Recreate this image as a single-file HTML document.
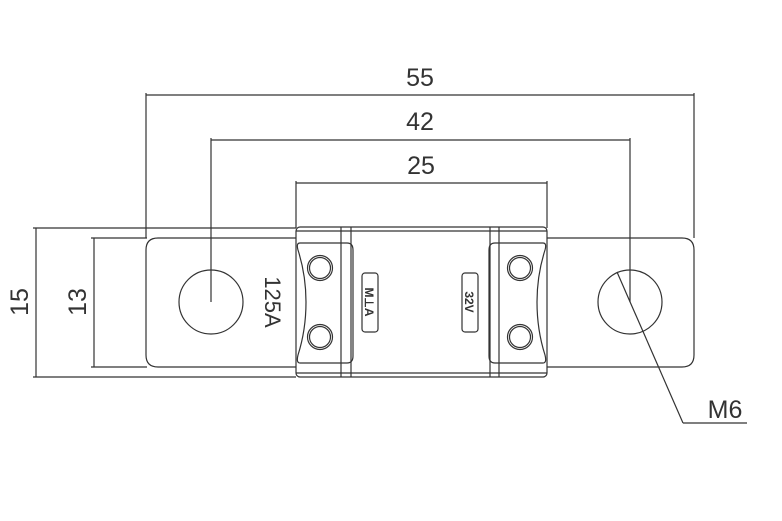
<!DOCTYPE html>
<html><head><style>
html,body{margin:0;padding:0;background:#fff;}
svg{display:block;}
text{font-family:"Liberation Sans",sans-serif;fill:#333;}
</style></head><body>
<svg width="782" height="521" viewBox="0 0 782 521" xmlns="http://www.w3.org/2000/svg">
<g stroke="#333" stroke-width="1.2" fill="none">
<!-- dimension 55 -->
<line x1="146" y1="93" x2="146" y2="238"/>
<line x1="694" y1="93" x2="694" y2="238"/>
<line x1="146" y1="95" x2="694" y2="95"/>
<!-- 42 -->
<line x1="211" y1="138" x2="211" y2="302"/>
<line x1="630" y1="138" x2="630" y2="302"/>
<line x1="211" y1="140" x2="630" y2="140"/>
<!-- 25 -->
<line x1="296" y1="181" x2="296" y2="228"/>
<line x1="547" y1="181" x2="547" y2="228"/>
<line x1="296" y1="183" x2="547" y2="183"/>
<!-- 15 -->
<line x1="33" y1="228" x2="296" y2="228"/>
<line x1="33" y1="377" x2="296" y2="377"/>
<line x1="36" y1="228" x2="36" y2="377"/>
<!-- 13 -->
<line x1="91" y1="238" x2="147" y2="238"/>
<line x1="91" y1="367" x2="147" y2="367"/>
<line x1="94" y1="238" x2="94" y2="367"/>
<!-- tabs -->
<path d="M296 238 H158 Q146 238 146 250 V355 Q146 367 158 367 H296"/>
<path d="M547 238 H682 Q694 238 694 250 V355 Q694 367 682 367 H547"/>
<circle cx="211" cy="302" r="32"/>
<circle cx="630" cy="302" r="32"/>
<!-- body -->
<rect x="296" y="227" width="251" height="150" rx="4"/>
<line x1="296" y1="231" x2="547" y2="231"/>
<line x1="296" y1="373" x2="547" y2="373"/>
<line x1="341" y1="227" x2="341" y2="377"/>
<line x1="351" y1="227" x2="351" y2="377"/>
<line x1="490" y1="227" x2="490" y2="377"/>
<line x1="499" y1="227" x2="499" y2="377"/>
<!-- clips -->
<path d="M300 243 H347 Q353 243 353 250 V356 Q353 363 347 363 H300 Q296 363 298 355 Q306 330 306 302 Q306 275 298 250 Q296 243 300 243 Z"/>
<path d="M543 243 H495 Q489 243 489 250 V356 Q489 363 495 363 H543 Q547 363 545 355 Q537 330 537 302 Q537 275 545 250 Q547 243 543 243 Z"/>
<circle cx="320" cy="268" r="12.5"/><circle cx="320" cy="268" r="10.5"/>
<circle cx="320" cy="337" r="12.5"/><circle cx="320" cy="337" r="10.5"/>
<circle cx="520" cy="268" r="12.5"/><circle cx="520" cy="268" r="10.5"/>
<circle cx="520" cy="337" r="12.5"/><circle cx="520" cy="337" r="10.5"/>
<rect x="362" y="273" width="16" height="59" rx="3"/>
<rect x="462" y="273" width="16" height="59" rx="3"/>
<!-- M6 leader -->
<line x1="617" y1="272" x2="683" y2="423"/>
<line x1="683" y1="423" x2="747" y2="423"/>
</g>
<text x="420" y="86" font-size="25" text-anchor="middle">55</text>
<text x="420" y="130" font-size="25" text-anchor="middle">42</text>
<text x="421" y="174" font-size="25" text-anchor="middle">25</text>
<text transform="translate(28,302) rotate(-90)" font-size="25" text-anchor="middle">15</text>
<text transform="translate(86,302) rotate(-90)" font-size="25" text-anchor="middle">13</text>
<text transform="translate(265,302) rotate(90)" font-size="22" text-anchor="middle">125A</text>
<text transform="translate(365,302) rotate(90)" font-size="12" font-weight="bold" text-anchor="middle">M⊥A</text>
<text transform="translate(465,302) rotate(90)" font-size="12" font-weight="bold" text-anchor="middle">32V</text>
<text x="725" y="418" font-size="25" text-anchor="middle">M6</text>
</svg>
</body></html>
